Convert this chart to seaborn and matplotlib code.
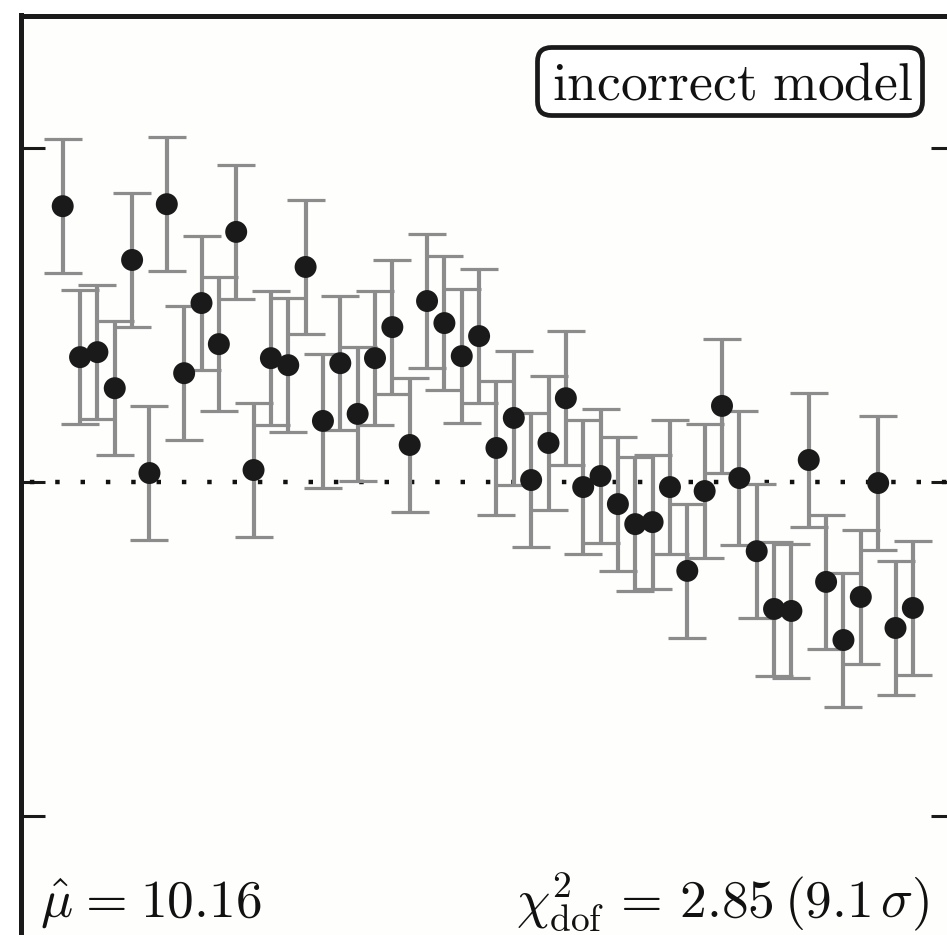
import numpy as np
import pandas as pd
import matplotlib
matplotlib.use("Agg")
import matplotlib.pyplot as plt
from matplotlib.patches import FancyBboxPatch
from matplotlib.transforms import IdentityTransform
import seaborn as sns

# ---------------- data ----------------
bins = list(range(1, 51))
values = [0.826, 0.374, 0.389, 0.281, 0.665, 0.027, 0.832, 0.326, 0.536, 0.413,
          0.749, 0.036, 0.371, 0.350, 0.644, 0.183, 0.356, 0.204, 0.371, 0.464,
          0.111, 0.542, 0.476, 0.377, 0.437, 0.102, 0.192, 0.006, 0.117, 0.251,
          -0.015, 0.018, -0.066, -0.126, -0.120, -0.015, -0.266, -0.027, 0.228, 0.012,
          -0.207, -0.380, -0.386, 0.066, -0.299, -0.473, -0.344, -0.003, -0.437, -0.377]
errors = [0.2] * 50
yticks = [-1, 0, 1]
reference_level = 0.0
label_box = r"$\mathrm{incorrect\ model}$"
label_mu = r"$\hat{\mu}\hspace{0.08}=\hspace{0.08}10.16$"
label_chi = r"$\chi^2_{\rm dof}\,=\,2.85\hspace{0.2}(9.1\,\sigma)$"

df = pd.DataFrame({"bin": bins, "value": values, "err": errors})

# ---------------- style ----------------
sns.set_theme(style="ticks")
plt.rcParams["mathtext.fontset"] = "cm"
plt.rcParams["font.family"] = ["DejaVu Serif"]

W, H = 947, 935
fig = plt.figure(figsize=(W / 100, H / 100), dpi=100)
fig.patch.set_facecolor("white")

# axes extends beyond figure on right/bottom (cropped panel)
left_px, right_px, top_px, bot_px = 20.5, 954.5, 15.5, 948.6
ax = fig.add_axes([left_px / W, 1 - bot_px / H, (right_px - left_px) / W, (bot_px - top_px) / H])
ax.set_facecolor("#fefefc")

ax.axhline(reference_level, color="#111111", lw=3.2, ls=(3.7, (1, 4.7)), zorder=1)

ax.errorbar(df["bin"], df["value"], yerr=df["err"], fmt="none",
            ecolor="#8c8c8c", elinewidth=3.0, capsize=13.4, capthick=2.3, zorder=2)
sns.scatterplot(data=df, x="bin", y="value", ax=ax, s=250, color="#1a1a1a",
                edgecolor="none", linewidth=0, zorder=3, legend=False)

x0 = 62.7
dx = 17.35
ax.set_xlim(1 + (left_px - x0) / dx, 1 + (right_px - x0) / dx)
ax.set_ylim(-1.397, 1.397)
ax.set_xlabel("")
ax.set_ylabel("")
ax.set_xticks([])
ax.set_yticks(yticks)
ax.tick_params(axis="y", direction="in", length=17.6, width=2.2, color="#1a1a1a",
               left=True, right=True, labelleft=False, labelright=False)
for sp in ax.spines.values():
    sp.set_visible(True)
    sp.set_linewidth(3.6)
    sp.set_color("#1a1a1a")

# annotation box (in pixel coordinates)
box = FancyBboxPatch((537.5, H - 115.5), 922.5 - 537.5, 115.5 - 47.5,
                     boxstyle="round,pad=0,rounding_size=14", fc="white",
                     ec="#1a1a1a", lw=3.4, transform=IdentityTransform(), zorder=5)
fig.patches.append(box)
fig.text(913 / W, 1 - 100 / H, label_box, fontsize=38.5, ha="right", va="baseline",
         color="#111111", zorder=6)
fig.text(40 / W, 1 - 917 / H, label_mu, fontsize=38.5, ha="left", va="baseline",
         color="#111111")
fig.text(929 / W, 1 - 917 / H, label_chi, fontsize=38.5, ha="right", va="baseline",
         color="#111111")

fig.savefig("out.png", dpi=100)
